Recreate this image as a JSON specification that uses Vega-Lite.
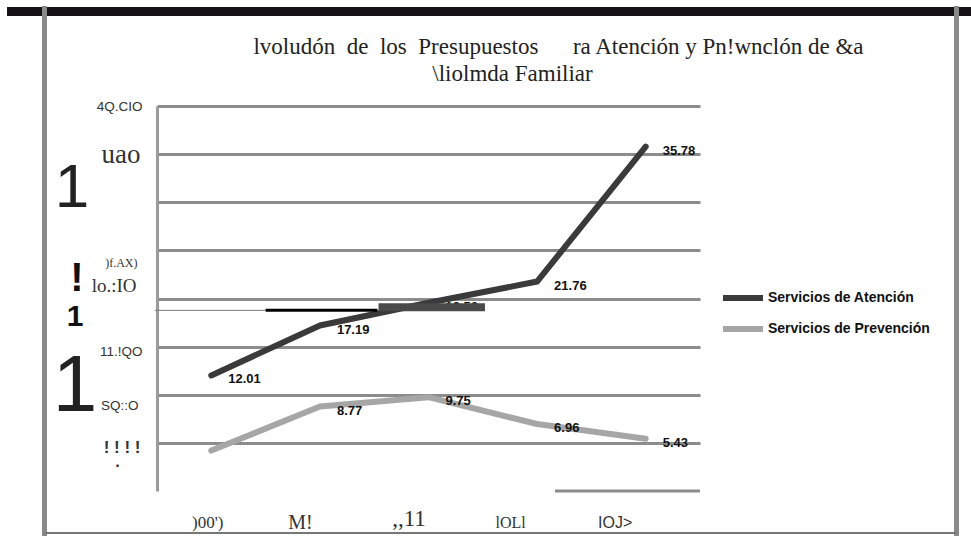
{
  "$schema": "https://vega.github.io/schema/vega-lite/v6.json",
  "width": 543,
  "height": 385,
  "autosize": {"type": "none"},
  "padding": {"left": 157, "top": 106, "right": 271, "bottom": 45},
  "background": "white",
  "config": {"view": {"stroke": null}, "font": "Liberation Sans"},
  "title": {
    "text": ["lvoludón\u00a0 de\u00a0 los\u00a0 Presupuestos\u00a0\u00a0\u00a0\u00a0\u00a0 ra Atención y Pn!wnclón de &a", "\\liolmda Familiar\u00a0\u00a0\u00a0\u00a0\u00a0\u00a0\u00a0\u00a0\u00a0\u00a0\u00a0\u00a0\u00a0\u00a0\u00a0\u00a0\u200b"],
    "font": "Liberation Serif",
    "fontSize": 23,
    "fontWeight": "normal",
    "color": "#222222",
    "anchor": "middle",
    "dx": 130,
    "offset": -83,
    "lineHeight": 27
  },
  "datasets": {
    "series": [
      {"anio": 2009, "valor": 12.01, "serie": "Servicios de Atención", "etiqueta": "12.01"},
      {"anio": 2010, "valor": 17.19, "serie": "Servicios de Atención", "etiqueta": "17.19"},
      {"anio": 2011, "valor": 19.56, "serie": "Servicios de Atención", "etiqueta": "19.56"},
      {"anio": 2012, "valor": 21.76, "serie": "Servicios de Atención", "etiqueta": "21.76"},
      {"anio": 2013, "valor": 35.78, "serie": "Servicios de Atención", "etiqueta": "35.78"},
      {"anio": 2009, "valor": 4.2, "serie": "Servicios de Prevención", "etiqueta": ""},
      {"anio": 2010, "valor": 8.77, "serie": "Servicios de Prevención", "etiqueta": "8.77"},
      {"anio": 2011, "valor": 9.75, "serie": "Servicios de Prevención", "etiqueta": "9.75"},
      {"anio": 2012, "valor": 6.96, "serie": "Servicios de Prevención", "etiqueta": "6.96"},
      {"anio": 2013, "valor": 5.43, "serie": "Servicios de Prevención", "etiqueta": "5.43"}
    ]
  },
  "layer": [
    {
      "data": {"name": "series"},
      "mark": {"type": "line", "strokeWidth": 6, "strokeCap": "round", "strokeJoin": "round"},
      "encoding": {
        "x": {
          "field": "anio", "type": "quantitative",
          "scale": {"domain": [2008.5, 2013.5], "nice": false, "zero": false},
          "axis": {
            "values": [2009, 2010, 2011, 2012, 2013],
            "title": null, "domain": false, "ticks": false, "grid": false,
            "labelFlush": false, "labelOverlap": false,
            "labelBaseline": "middle",
            "labelPadding": {"condition": {"test": "datum.value==2011", "value": 27}, "value": 31},
            "labelColor": "#333333",
            "labelExpr": "datum.value==2009?\")00')\":datum.value==2010?\"M!\":datum.value==2011?\",,11\":datum.value==2012?\"lOLl\":\"IOJ>\"",
            "labelFont": {"condition": {"test": "datum.value==2013", "value": "Liberation Sans"}, "value": "Liberation Serif"},
            "labelFontSize": {"condition": [{"test": "datum.value==2009", "value": 17}, {"test": "datum.value==2010", "value": 20}, {"test": "datum.value==2011", "value": 23}], "value": 16},
            "labelOffset": {"condition": [{"test": "datum.value==2009", "value": -4}, {"test": "datum.value==2010", "value": -20}, {"test": "datum.value==2011", "value": -20}, {"test": "datum.value==2012", "value": -27}], "value": -31}
          }
        },
        "y": {
          "field": "valor", "type": "quantitative",
          "scale": {"domain": [0, 40], "nice": false},
          "axis": {
            "values": [0, 5, 10, 15, 20, 25, 30, 35, 40],
            "title": null,
            "domain": true, "domainColor": "#9a9a9a", "domainWidth": 3,
            "ticks": false,
            "grid": true, "gridColor": "#8c8c8c", "gridWidth": 3,
            "gridOpacity": {"condition": {"test": "datum.value==0", "value": 0}, "value": 1},
            "labelPadding": {"condition": [{"test": "datum.value==20", "value": 21}, {"test": "datum.value==25", "value": 20}, {"test": "datum.value==10", "value": 19}, {"test": "datum.value==35", "value": 17}, {"test": "datum.value==5", "value": 17}], "value": 15},
            "labelColor": "#333333",
            "labelExpr": "datum.value==40?\"4Q.CIO\":datum.value==35?\"uao\":datum.value==25?\")f.AX)\":datum.value==20?\"lo.:IO\":datum.value==15?\"11.!QO\":datum.value==10?\"SQ::O\":datum.value==5?\"! ! ! !\":\"\"",
            "labelFont": {"condition": {"test": "datum.value==35 || datum.value==25 || datum.value==20", "value": "Liberation Serif"}, "value": "Liberation Sans"},
            "labelFontSize": {"condition": [{"test": "datum.value==35", "value": 27}, {"test": "datum.value==20", "value": 19}, {"test": "datum.value==25", "value": 12}, {"test": "datum.value==5", "value": 17}], "value": 13.5},
            "labelFontWeight": {"condition": {"test": "datum.value==5", "value": "bold"}, "value": "normal"},
            "labelOffset": {"condition": [{"test": "datum.value==25", "value": 12}, {"test": "datum.value==20", "value": -13}, {"test": "datum.value==15", "value": 5}, {"test": "datum.value==10", "value": 11}, {"test": "datum.value==5", "value": 5}], "value": 0}
          }
        },
        "color": {
          "field": "serie", "type": "nominal",
          "scale": {"domain": ["Servicios de Atención", "Servicios de Prevención"], "range": ["#3a3a3a", "#a6a6a6"]},
          "legend": {
            "orient": "none", "legendX": 573, "legendY": 179,
            "title": null,
            "symbolType": "M-2,0H2", "symbolSize": 400, "symbolStrokeWidth": 6,
            "labelFont": "Liberation Sans", "labelFontWeight": "bold", "labelFontSize": 14,
            "labelLimit": 300,
            "labelColor": "#111111", "labelOffset": 12, "rowPadding": 6
          }
        }
      }
    },
    {
      "data": {"name": "series"},
      "mark": {"type": "text", "align": "left", "baseline": "middle", "dx": 17, "dy": 4, "font": "Liberation Sans", "fontWeight": "bold", "fontSize": 13, "color": "#111111"},
      "encoding": {
        "x": {"field": "anio", "type": "quantitative"},
        "y": {"field": "valor", "type": "quantitative"},
        "text": {"field": "etiqueta"}
      }
    },
    {
      "data": {"values": [{}]},
      "mark": {"type": "rule", "color": "#8c8c8c", "strokeWidth": 3},
      "encoding": {
        "x": {"datum": 2012.165, "type": "quantitative"},
        "x2": {"datum": 2013.5},
        "y": {"datum": 0, "type": "quantitative"}
      }
    },
    {
      "data": {"values": [{}]},
      "mark": {"type": "rule", "color": "#777777", "strokeWidth": 1},
      "encoding": {
        "x": {"datum": 2008.48, "type": "quantitative"},
        "x2": {"datum": 2009.5},
        "y": {"datum": 18.77, "type": "quantitative"}
      }
    },
    {
      "data": {"values": [{}]},
      "mark": {"type": "rule", "color": "#000000", "strokeWidth": 3},
      "encoding": {
        "x": {"datum": 2009.5, "type": "quantitative"},
        "x2": {"datum": 2010.53},
        "y": {"datum": 18.77, "type": "quantitative"}
      }
    },
    {
      "data": {"values": [{}]},
      "mark": {"type": "rule", "color": "#4a4a4a", "strokeWidth": 8},
      "encoding": {
        "x": {"datum": 2010.54, "type": "quantitative"},
        "x2": {"datum": 2011.52},
        "y": {"datum": 19.1, "type": "quantitative"}
      }
    },
    {
      "data": {"values": [{}]},
      "mark": {"type": "text", "font": "Liberation Sans", "fontSize": 62, "color": "#222222", "baseline": "middle", "align": "center"},
      "encoding": {
        "x": {"datum": 2007.717, "type": "quantitative"},
        "y": {"datum": 31.48, "type": "quantitative"},
        "text": {"value": "1"}
      }
    },
    {
      "data": {"values": [{}]},
      "mark": {"type": "text", "font": "Liberation Sans", "fontSize": 40, "fontWeight": "bold", "color": "#111111", "baseline": "middle", "align": "center"},
      "encoding": {
        "x": {"datum": 2007.763, "type": "quantitative"},
        "y": {"datum": 22.0, "type": "quantitative"},
        "text": {"value": "!"}
      }
    },
    {
      "data": {"values": [{}]},
      "mark": {"type": "text", "font": "Liberation Sans", "fontSize": 30, "fontWeight": "bold", "color": "#111111", "baseline": "middle", "align": "center"},
      "encoding": {
        "x": {"datum": 2007.745, "type": "quantitative"},
        "y": {"datum": 18.1, "type": "quantitative"},
        "text": {"value": "1"}
      }
    },
    {
      "data": {"values": [{}]},
      "mark": {"type": "text", "font": "Liberation Sans", "fontSize": 80, "color": "#222222", "baseline": "middle", "align": "center"},
      "encoding": {
        "x": {"datum": 2007.745, "type": "quantitative"},
        "y": {"datum": 10.8, "type": "quantitative"},
        "text": {"value": "1"}
      }
    },
    {
      "data": {"values": [{}]},
      "mark": {"type": "text", "font": "Liberation Sans", "fontSize": 16, "fontWeight": "bold", "color": "#333333", "baseline": "middle", "align": "center"},
      "encoding": {
        "x": {"datum": 2008.141, "type": "quantitative"},
        "y": {"datum": 2.6, "type": "quantitative"},
        "text": {"value": "·"}
      }
    },
    {
      "data": {"values": [{}]},
      "mark": {"type": "rule", "color": "#141214", "strokeWidth": 9},
      "encoding": {
        "x": {"datum": 2007.119, "type": "quantitative"},
        "x2": {"datum": 2016.0},
        "y": {"datum": 49.82, "type": "quantitative"}
      }
    },
    {
      "data": {"values": [{}]},
      "mark": {"type": "rule", "color": "#8a8a8a", "strokeWidth": 5},
      "encoding": {
        "x": {"datum": 2007.464, "type": "quantitative"},
        "y": {"datum": 50.39, "type": "quantitative"},
        "y2": {"datum": -4.675}
      }
    },
    {
      "data": {"values": [{}]},
      "mark": {"type": "rule", "color": "#8a8a8a", "strokeWidth": 5},
      "encoding": {
        "x": {"datum": 2015.862, "type": "quantitative"},
        "y": {"datum": 50.39, "type": "quantitative"},
        "y2": {"datum": -4.675}
      }
    },
    {
      "data": {"values": [{}]},
      "mark": {"type": "rule", "color": "#777777", "strokeWidth": 2},
      "encoding": {
        "x": {"datum": 2007.464, "type": "quantitative"},
        "x2": {"datum": 2015.862},
        "y": {"datum": -4.364, "type": "quantitative"}
      }
    }
  ]
}
